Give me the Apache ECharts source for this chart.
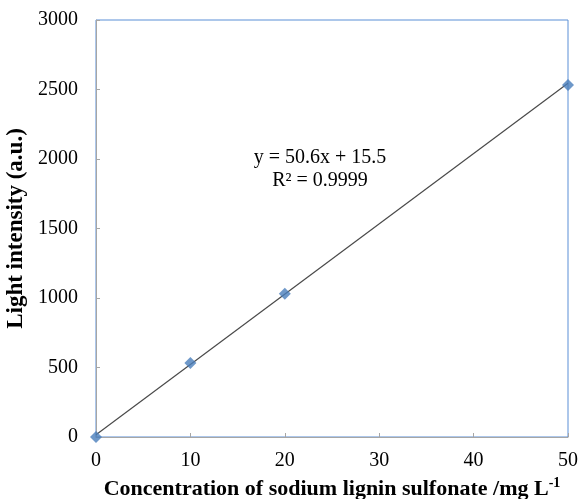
<!DOCTYPE html>
<html>
<head>
<meta charset="utf-8">
<script src="https://cdn.jsdelivr.net/npm/echarts@6/dist/echarts.min.js"></script>
<style>
  html, body { margin: 0; padding: 0; background: #fff; }
  #chart { width: 579px; height: 499px; }
</style>
</head>
<body>
<div id="chart"></div>
<script>
// measured points
const concentration = [0, 10, 20, 50]
const intensity = [0, 532, 1030, 2532]
// linear fit y = 50.6x + 15.5, drawn between its ends
const fitX = [0, 50]
const fitY = [15.5, 2545.5]
const xTicks = [0, 10, 20, 30, 40, 50]
const yTicks = [0, 500, 1000, 1500, 2000, 2500, 3000]

const font = '"Liberation Serif", "Times New Roman", serif'
const chart = echarts.init(document.getElementById('chart'), null, { renderer: 'canvas' })

chart.setOption({
  backgroundColor: '#ffffff',
  animation: false,
  grid: {
    left: 96,
    right: 11,
    top: 20,
    bottom: 62,
    containLabel: false,
    outerBoundsMode: 'none',
    show: true,
    borderColor: '#5b8fd6',
    borderWidth: 1,
  },
  xAxis: {
    type: 'value',
    min: xTicks[0],
    max: xTicks[xTicks.length - 1],
    interval: 10,
    name: '{b|Concentration of sodium lignin sulfonate /mg L}{s|-1}',
    nameLocation: 'middle',
    nameGap: 39,
    nameTextStyle: {
      rich: {
        b: { fontFamily: font, fontSize: 22, fontWeight: 'bold', color: '#000' },
        s: { fontFamily: font, fontSize: 14, fontWeight: 'bold', color: '#000', verticalAlign: 'top', padding: [0, 0, 12, 0] },
      },
    },
    axisLine: { lineStyle: { color: '#a6a6a6', width: 1 } },
    axisTick: { inside: true, length: 4, lineStyle: { color: '#a6a6a6' } },
    axisLabel: { fontFamily: font, fontSize: 20, color: '#000', margin: 14 },
    splitLine: { show: false },
  },
  yAxis: {
    type: 'value',
    min: yTicks[0],
    max: yTicks[yTicks.length - 1],
    interval: 500,
    name: 'Light intensity (a.u.)',
    nameLocation: 'middle',
    nameGap: 60,
    nameTextStyle: { fontFamily: font, fontSize: 23, fontWeight: 'bold', color: '#000' },
    axisLine: { show: true, lineStyle: { color: '#a6a6a6', width: 1 } },
    axisTick: { show: true, inside: true, length: 4, lineStyle: { color: '#a6a6a6' } },
    axisLabel: { fontFamily: font, fontSize: 20, color: '#000', margin: 18, formatter: (v) => String(v) },
    splitLine: { show: false },
  },
  graphic: [
    {
      type: 'text',
      x: 320,
      y: 146,
      style: {
        text: 'y = 50.6x + 15.5\nR² = 0.9999',
        fontFamily: font,
        fontSize: 20,
        lineHeight: 23,
        align: 'center',
        fill: '#000',
      },
    },
  ],
  series: [
    {
      name: 'fit',
      type: 'line',
      data: fitX.map((x, i) => [x, fitY[i]]),
      symbol: 'none',
      lineStyle: { color: '#4a4a4a', width: 1.2 },
      z: 2,
    },
    {
      name: 'data',
      type: 'scatter',
      data: concentration.map((x, i) => [x, intensity[i]]),
      symbol: 'diamond',
      symbolSize: 12,
      itemStyle: { color: '#4a7ebb' },
      z: 3,
    },
  ],
})
</script>
</body>
</html>
